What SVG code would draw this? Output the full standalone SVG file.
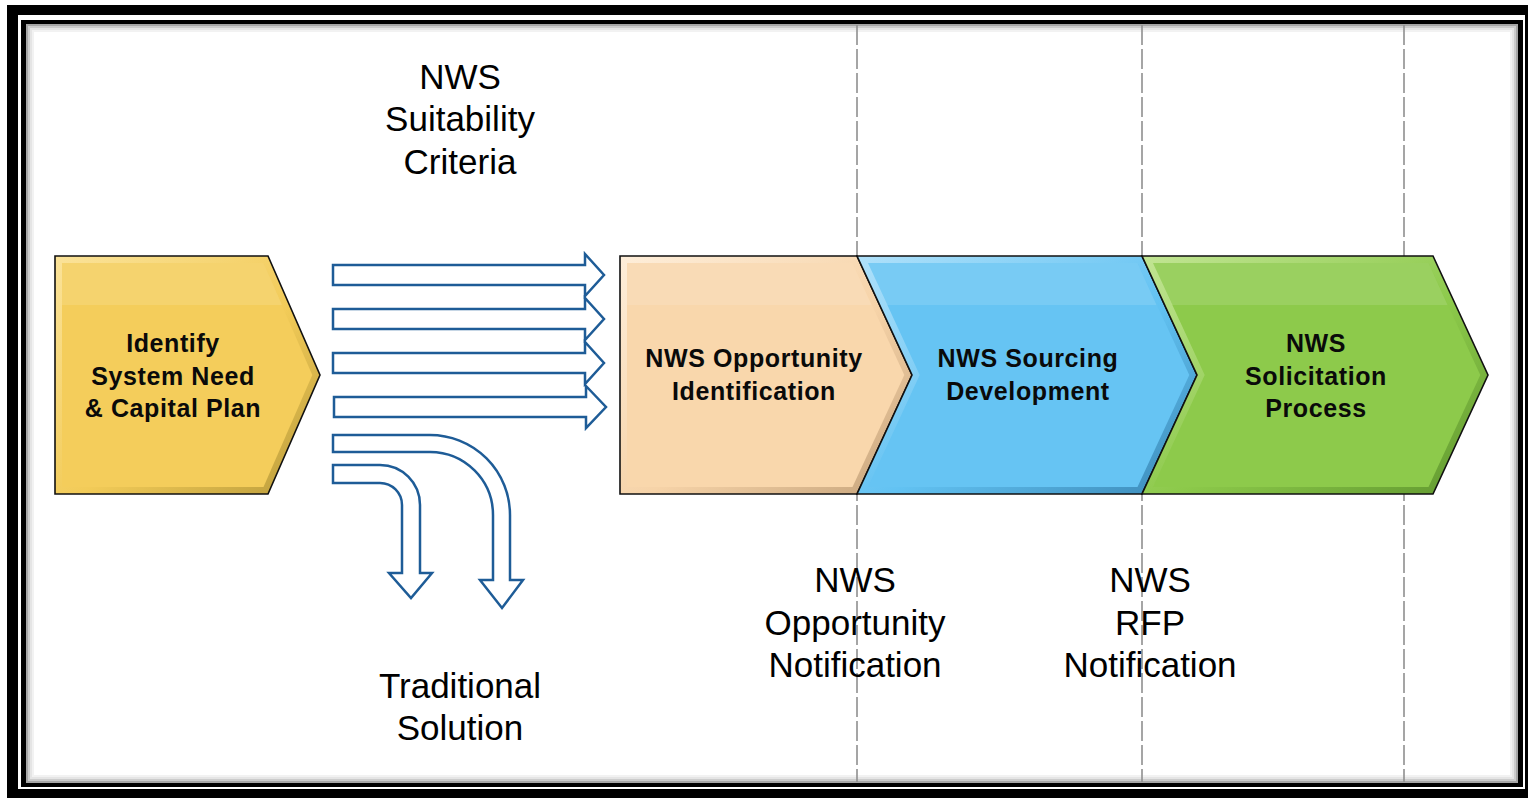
<svg xmlns="http://www.w3.org/2000/svg" width="1528" height="798" viewBox="0 0 1528 798">
<defs>
<style>
.lbl{font-family:"Liberation Sans",Arial,sans-serif;font-size:35px;fill:#000;text-anchor:middle}
.nt{font-family:"Liberation Sans",Arial,sans-serif;font-size:25px;font-weight:bold;letter-spacing:0.6px;fill:#0a0a0a;text-anchor:middle}
.edge{stroke:#111;stroke-width:1.6;stroke-linejoin:miter}
.arr{fill:#fff;stroke:#1E5C97;stroke-width:2.5;stroke-linejoin:miter}
.dash{stroke:#8f8f8f;stroke-width:1.6;stroke-dasharray:20 4;fill:none}
.gloss{fill:#fff;fill-opacity:0.12}
</style>
<linearGradient id="gY" x1="0" y1="0" x2="1" y2="1"><stop offset="0" stop-color="#FBE39A"/><stop offset="0.55" stop-color="#F2CB58"/><stop offset="1" stop-color="#B89A3A"/></linearGradient>
<linearGradient id="gP" x1="0" y1="0" x2="1" y2="1"><stop offset="0" stop-color="#FEEEDA"/><stop offset="0.55" stop-color="#F6D3A8"/><stop offset="1" stop-color="#C4A27A"/></linearGradient>
<linearGradient id="gB" x1="0" y1="0" x2="1" y2="1"><stop offset="0" stop-color="#B0E1FA"/><stop offset="0.55" stop-color="#62C2F2"/><stop offset="1" stop-color="#3A88B6"/></linearGradient>
<linearGradient id="gG" x1="0" y1="0" x2="1" y2="1"><stop offset="0" stop-color="#C2E594"/><stop offset="0.55" stop-color="#8CC94A"/><stop offset="1" stop-color="#5F962E"/></linearGradient>
</defs>

<!-- frame -->
<g id="frame">
<rect x="7" y="5" width="1540" height="810" fill="#000"/>
<rect x="18" y="15" width="1507" height="774" fill="#fff"/>
<rect x="21" y="20" width="1502" height="767" fill="#000"/>
<rect x="26" y="24" width="1492" height="759" fill="#fff"/>
<rect x="27" y="25" width="1490" height="757" fill="none" stroke="#000" stroke-opacity="0.35" stroke-width="2"/>
<rect x="29" y="27" width="1486" height="753" fill="none" stroke="#000" stroke-opacity="0.2" stroke-width="2"/>
<rect x="31" y="29" width="1482" height="749" fill="none" stroke="#000" stroke-opacity="0.1" stroke-width="2"/>
<rect x="33" y="31" width="1478" height="745" fill="none" stroke="#000" stroke-opacity="0.05" stroke-width="2"/>
</g>

<!-- dashed guide lines -->
<g id="guides">
<line class="dash" x1="857" y1="25" x2="857" y2="782"/>
<line class="dash" x1="1142" y1="25" x2="1142" y2="782"/>
<line class="dash" x1="1404" y1="25" x2="1404" y2="782"/>
</g>

<!-- connectors -->
<g id="connectors">
<path class="arr" d="M333,265 H585 V254 L604,275 L585,296 V285 H333 Z"/>
<path class="arr" d="M333,309 H585 V298 L604,319 L585,340 V329 H333 Z"/>
<path class="arr" d="M333,353 H585 V342 L604,363 L585,384 V373 H333 Z"/>
<path class="arr" d="M334,397 H586 V386 L606,407 L586,428 V417 H334 Z"/>
<path class="arr" d="M333,435 H430 A80,80 0 0 1 510,515 V580 H523 L502,608 L480,580 H493 V515 A63,63 0 0 0 430,452 H333 Z"/>
<path class="arr" d="M333,465 H380 A40,40 0 0 1 420,505 V573 H432 L411,598 L389,573 H402 V505 A22,22 0 0 0 380,483 H333 Z"/>
</g>

<!-- nodes -->
<g id="node-identify">
<polygon class="edge" fill="url(#gY)" points="55,256 268,256 320,375 268,494 55,494"/>
<polygon fill="#F4CD5B" points="62,263 263.5,263 312.3,375 263.5,487 62,487"/>
<polygon class="gloss" points="62,263 263.5,263 282,305 62,305"/>
<text class="nt" x="173" y="352">Identify</text>
<text class="nt" x="173" y="385">System Need</text>
<text class="nt" x="173" y="417">&amp; Capital Plan</text>
</g>

<g id="node-opportunity">
<polygon class="edge" fill="url(#gP)" points="620,256 857,256 912,375 857,494 620,494"/>
<polygon fill="#F9D7AC" points="627,263 852.5,263 904.3,375 852.5,487 627,487"/>
<polygon class="gloss" points="627,263 852.5,263 871.5,305 627,305"/>
<text class="nt" x="754" y="367">NWS Opportunity</text>
<text class="nt" x="754" y="400">Identification</text>
</g>

<g id="node-sourcing">
<polygon class="edge" fill="url(#gB)" points="857,256 1142,256 1197,375 1142,494 857,494 912,375"/>
<polygon fill="#66C4F3" points="868,263 1137.5,263 1189.3,375 1137.5,487 868,487 919.7,375"/>
<polygon class="gloss" points="868,263 1137.5,263 1156.5,305 887,305"/>
<text class="nt" x="1028" y="367">NWS Sourcing</text>
<text class="nt" x="1028" y="400">Development</text>
</g>

<g id="node-solicitation">
<polygon class="edge" fill="url(#gG)" points="1142,256 1433,256 1488,375 1433,494 1142,494 1197,375"/>
<polygon fill="#8DCA4B" points="1153,263 1428.5,263 1480.3,375 1428.5,487 1153,487 1204.7,375"/>
<polygon class="gloss" points="1153,263 1428.5,263 1447.5,305 1172,305"/>
<text class="nt" x="1316" y="352">NWS</text>
<text class="nt" x="1316" y="385">Solicitation</text>
<text class="nt" x="1316" y="417">Process</text>
</g>

<!-- labels -->
<g id="label-suitability">
<text class="lbl" x="460" y="89">NWS</text>
<text class="lbl" x="460" y="131">Suitability</text>
<text class="lbl" x="460" y="174">Criteria</text>
</g>
<g id="label-traditional">
<text class="lbl" x="460" y="698">Traditional</text>
<text class="lbl" x="460" y="740">Solution</text>
</g>
<g id="label-opp-notification">
<text class="lbl" x="855" y="592">NWS</text>
<text class="lbl" x="855" y="635">Opportunity</text>
<text class="lbl" x="855" y="677">Notification</text>
</g>
<g id="label-rfp-notification">
<text class="lbl" x="1150" y="592">NWS</text>
<text class="lbl" x="1150" y="635">RFP</text>
<text class="lbl" x="1150" y="677">Notification</text>
</g>
</svg>
